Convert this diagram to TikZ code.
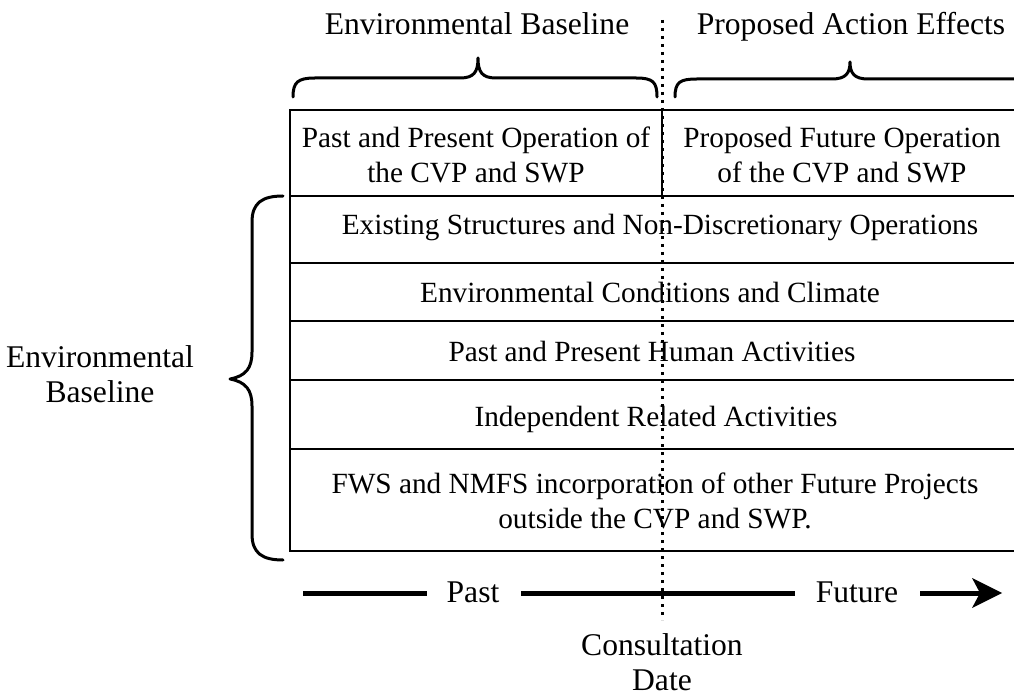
\documentclass[tikz,border=0pt]{standalone}
\usepackage{fontspec}
\setmainfont{Liberation Serif}
\usetikzlibrary{arrows.meta}
\tikzset{
  txt/.style={font=\fontsize{31.6}{35}\selectfont, align=center, inner sep=0pt, anchor=base},
  celltxt/.style={txt, font=\fontsize{29.3}{35}\selectfont},
  grid/.style={line width=2.5pt},
  bracepath/.style={line width=3pt, line cap=round, line join=round},
  timeline/.style={line width=5pt},
  dotline/.style={line width=3pt, dash pattern=on 3pt off 5pt},
}
\begin{document}
\begin{tikzpicture}[x=1pt,y=-1pt]
\useasboundingbox (0,0) rectangle (1014,700);
% grid
\draw[grid] (1020,110) -- (290,110) -- (290,551) -- (1020,551);
\foreach \yy in {196,263,321,380,449} \draw[grid] (290,\yy) -- (1020,\yy);
\draw[line width=2pt] (662,110) -- (662,196);
% dotted consultation line
\coordinate (dtop) at (662,20);
\coordinate (dbot) at (662,620);
\draw[dotline] (dtop) -- (dbot);
% top texts
\node[txt] (envtop) at (477,35) {Environmental Baseline};
\node[txt] (paeff) at (851,35) {Proposed Action Effects};
% top braces
\draw[bracepath] (293,97) .. controls (293,82) and (298,78) .. (315,78) -- (460,78) .. controls (474,78) and (478,72) .. (478,58) .. controls (478,72) and (482,78) .. (496,78) -- (636,78) .. controls (653,78) and (657,82) .. (657,97);
\draw[bracepath] (675,97) .. controls (675,82) and (680,79) .. (697,79) -- (832,79) .. controls (846,79) and (850,73) .. (850,62) .. controls (850,73) and (854,79) .. (868,79) -- (1030,79);
% cells (base anchor = baseline of last line)
\node[celltxt] (c1) at (476,183) {Past and Present Operation of\\the CVP and SWP};
\node[celltxt] (c2) at (842,183) {Proposed Future Operation\\of the CVP and SWP};
\node[celltxt] (r1) at (660,235) {Existing Structures and Non-Discretionary Operations};
\node[celltxt] (r2) at (650,303) {Environmental Conditions and Climate};
\node[celltxt] (r3) at (652,361) {Past and Present Human Activities};
\node[celltxt] (r4) at (656,426) {Independent Related Activities};
\node[celltxt] (r5) at (655,528) {FWS and NMFS incorporation of other Future Projects\\outside the CVP and SWP.};
% left brace and label
\draw[bracepath] (283,196) .. controls (262,196) and (252,203) .. (252,222) -- (252,352) .. controls (252,368) and (246,376) .. (230,379) .. controls (246,382) and (252,390) .. (252,406) -- (252,534) .. controls (252,553) and (262,560) .. (283,560);
\node[txt] (envleft) at (100,402) {Environmental\\Baseline};
% timeline
\node[txt] (past) at (473,602) {Past};
\node[txt] (future) at (857,602) {Future};
\coordinate (tstart) at (303,593);
\coordinate (tend) at (1002,593);
\draw[timeline] (tstart) -- (427,593);
\draw[timeline] (521,593) -- (795,593);
\draw[timeline] (920,593) -- (980,593);
\fill (tend) -- (972,578) -- (980,593) -- (972,608) -- cycle;
\node[txt] (cdate) at (662,690) {Consultation\\Date};
\end{tikzpicture}
\end{document}
